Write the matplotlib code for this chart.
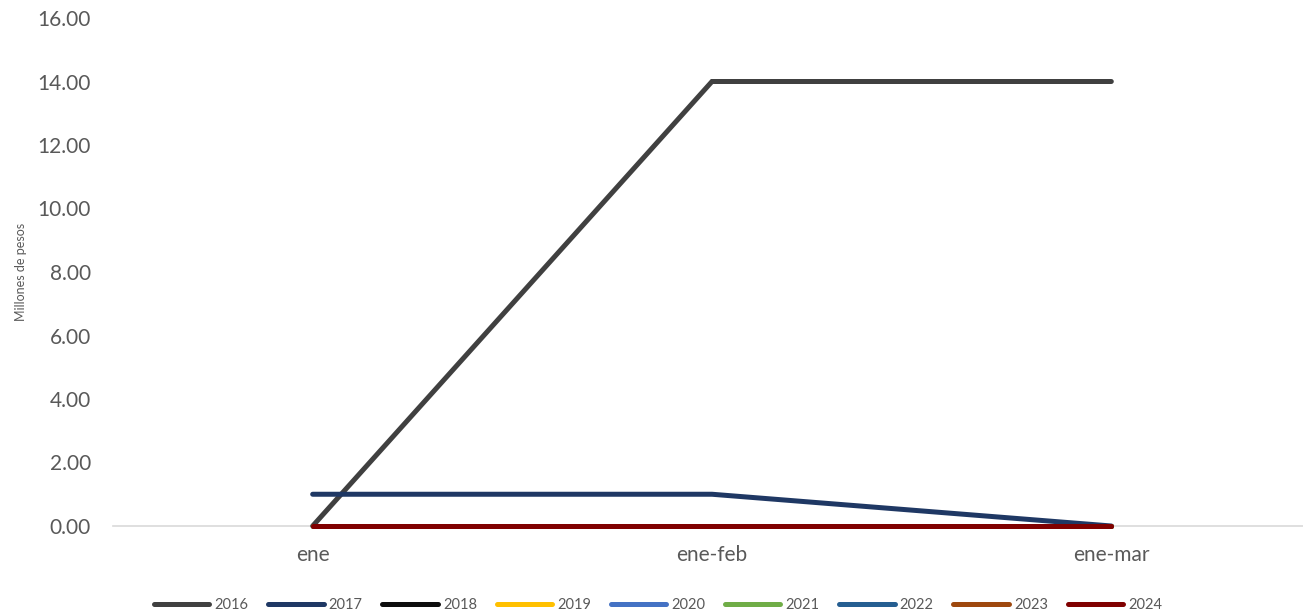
import matplotlib.pyplot as plt
from matplotlib.ticker import FormatStrFormatter

plt.rcParams['font.family'] = ['Lato', 'DejaVu Sans']

# data
categories = ['ene', 'ene-feb', 'ene-mar']
years = ['2016', '2017', '2018', '2019', '2020', '2021', '2022', '2023', '2024']
values = {
    '2016': [0.0, 14.0, 14.0],
    '2017': [1.0, 1.0, 0.0],
    '2018': [0.0, 0.0, 0.0],
    '2019': [0.0, 0.0, 0.0],
    '2020': [0.0, 0.0, 0.0],
    '2021': [0.0, 0.0, 0.0],
    '2022': [0.0, 0.0, 0.0],
    '2023': [0.0, 0.0, 0.0],
    '2024': [0.0, 0.0, 0.0],
}
colors = ['#404040', '#1F3864', '#0D0D0D', '#FFC000', '#4472C4',
          '#70AD47', '#255E91', '#9E480E', '#800000']

fig = plt.figure(figsize=(13.03, 6.14), dpi=100)
ax = fig.add_axes([113 / 1303, 1 - 526 / 614, 1 - 113 / 1303, (526 - 18) / 614])

x = list(range(len(categories)))
for yr, c in zip(years, colors):
    ax.plot(x, values[yr], color=c, lw=3.6, solid_capstyle='round',
            solid_joinstyle='miter', label=yr, clip_on=False)

ax.set_xlim(-0.5, 2.48)
ax.set_ylim(0, 16)
ax.set_yticks(range(0, 17, 2))
ax.yaxis.set_major_formatter(FormatStrFormatter('%.2f'))
ax.set_xticks(x)
ax.set_xticklabels(categories)

for s in ['top', 'right', 'left']:
    ax.spines[s].set_visible(False)
ax.spines['bottom'].set_color('#D9D9D9')
ax.spines['bottom'].set_linewidth(1.2)
ax.spines['bottom'].set_zorder(0)

ax.tick_params(axis='both', length=0, labelsize=15, colors='#595959')
ax.tick_params(axis='y', pad=16)
ax.tick_params(axis='x', pad=14)

ax.set_ylabel('Millones de pesos', fontsize=9, color='#595959')
ax.yaxis.set_label_coords(-0.072, 0.5)

leg = fig.legend(loc='lower center', bbox_to_anchor=(0.505, -0.018), ncol=9,
                 frameon=False, fontsize=10.5, handlelength=3.8,
                 handletextpad=0.35, columnspacing=1.35)
for t in leg.get_texts():
    t.set_color('#595959')
for h in leg.get_lines():
    h.set_linewidth(3.6)

fig.savefig('out.png', dpi=100)
